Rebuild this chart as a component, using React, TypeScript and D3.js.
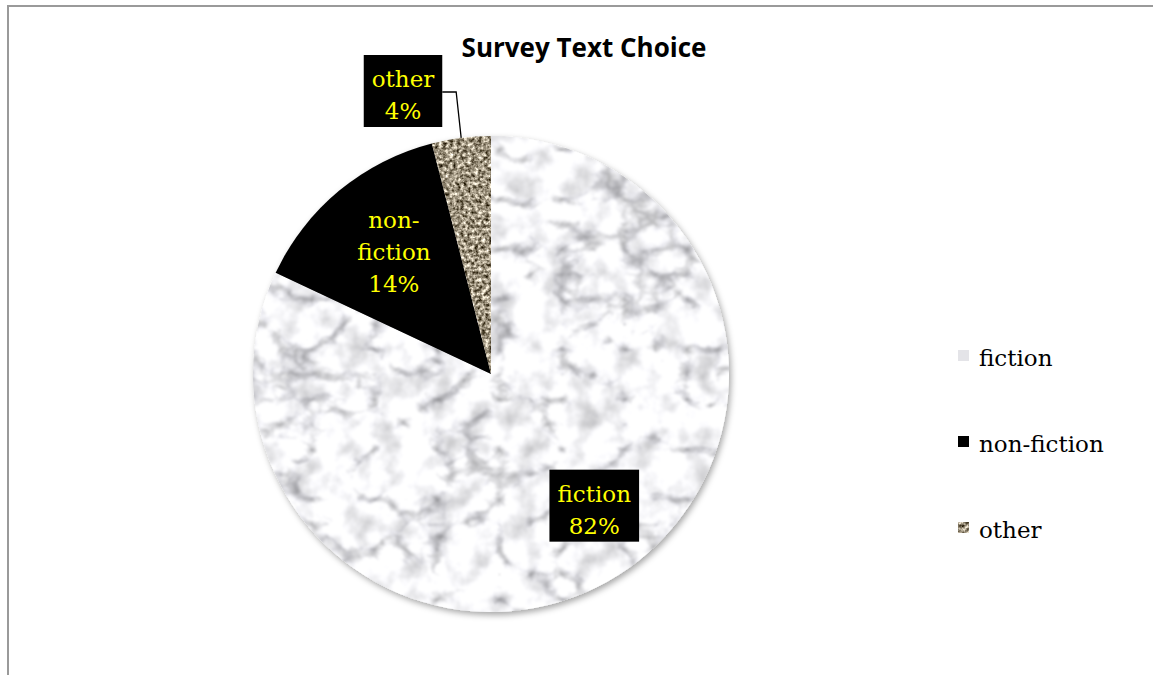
import React, { useEffect, useRef } from "react";
import * as d3 from "d3";

// Survey answers: share of respondents per text type (percent)
const categories = ["fiction", "non-fiction", "other"];
const shares = [82, 14, 4];
const chartTitle = "Survey Text Choice";

const W = 1153;
const H = 675;
const CX = 491;
const CY = 374;
const R = 238;
const SERIF = "'DejaVu Serif', 'Liberation Serif', serif";

type Datum = { name: string; value: number };

export default function App() {
  const ref = useRef<SVGSVGElement | null>(null);

  useEffect(() => {
    const svg = d3.select(ref.current);
    svg.selectAll("*").remove();

    const defs = svg.append("defs");

    // Marble texture: turbulence ridges become grey veins, cloudy noise adds mottling
    const marble = defs.append("filter").attr("id", "marbleTex")
      .attr("filterUnits", "userSpaceOnUse")
      .attr("color-interpolation-filters", "sRGB")
      .attr("x", 0).attr("y", 0).attr("width", W).attr("height", H);
    marble.append("feTurbulence").attr("type", "turbulence")
      .attr("baseFrequency", "0.016 0.02").attr("numOctaves", 5).attr("seed", 11).attr("result", "t");
    marble.append("feColorMatrix").attr("in", "t").attr("type", "matrix")
      .attr("values", "1.3 0 0 0 0.66  1.3 0 0 0 0.66  1.3 0 0 0 0.67  0 0 0 0 1")
      .attr("result", "veins");
    marble.append("feTurbulence").attr("type", "fractalNoise")
      .attr("baseFrequency", "0.035").attr("numOctaves", 4).attr("seed", 4).attr("result", "c");
    marble.append("feColorMatrix").attr("in", "c").attr("type", "matrix")
      .attr("values", "0.55 0 0 0 0.71  0.55 0 0 0 0.71  0.55 0 0 0 0.72  0 0 0 0 1")
      .attr("result", "clouds");
    marble.append("feBlend").attr("in", "veins").attr("in2", "clouds").attr("mode", "multiply").attr("result", "mix");
    marble.append("feGaussianBlur").attr("in", "mix").attr("stdDeviation", 1.2);

    // Speckled sandstone texture
    const sand = defs.append("filter").attr("id", "sandTex")
      .attr("filterUnits", "userSpaceOnUse")
      .attr("color-interpolation-filters", "sRGB")
      .attr("x", 0).attr("y", 0).attr("width", W).attr("height", H);
    sand.append("feTurbulence").attr("type", "fractalNoise")
      .attr("baseFrequency", "0.28").attr("numOctaves", 3).attr("seed", 5).attr("result", "n");
    sand.append("feColorMatrix").attr("in", "n").attr("type", "matrix")
      .attr("values", "1.5 0 0 0 -0.13  1.5 0 0 0 -0.17  1.5 0 0 0 -0.25  0 0 0 0 1")
      .attr("result", "s");
    sand.append("feGaussianBlur").attr("in", "s").attr("stdDeviation", 0.5);

    const shadow = defs.append("filter").attr("id", "pieShadow")
      .attr("x", "-10%").attr("y", "-10%").attr("width", "120%").attr("height", "120%");
    shadow.append("feDropShadow").attr("dx", 2).attr("dy", 3).attr("stdDeviation", 3)
      .attr("flood-color", "#000").attr("flood-opacity", 0.35);

    const textures = d3.scaleOrdinal<string, string>()
      .domain(categories)
      .range(["marbleTex", "", "sandTex"]);

    // Frame of the chart area
    svg.append("rect").attr("x", 8).attr("y", 6).attr("width", W + 20).attr("height", H + 20)
      .attr("fill", "none").attr("stroke", "#9a9a9a").attr("stroke-width", 2);

    svg.append("text").attr("x", 584).attr("y", 57).attr("text-anchor", "middle")
      .attr("font-family", "'Open Sans', Lato, sans-serif").attr("font-weight", 700)
      .attr("font-size", 26).attr("fill", "#000").text(chartTitle);

    const data: Datum[] = categories.map((c, i) => ({ name: c, value: shares[i] }));
    const pie = d3.pie<Datum>().sort(null).value((d) => d.value);
    const arcs = pie(data);
    const arc = d3.arc<d3.PieArcDatum<Datum>>().innerRadius(0).outerRadius(R);

    // Slices: textured ones are a filtered rectangle clipped to the slice shape
    const slices = svg.append("g").attr("filter", "url(#pieShadow)");
    arcs.forEach((a, i) => {
      const tex = textures(a.data.name);
      if (tex) {
        const id = `slice-clip-${i}`;
        defs.append("clipPath").attr("id", id)
          .append("path").attr("d", arc(a) as string)
          .attr("transform", `translate(${CX},${CY})`);
        slices.append("rect")
          .attr("x", CX - R - 2).attr("y", CY - R - 2)
          .attr("width", 2 * R + 4).attr("height", 2 * R + 4)
          .attr("filter", `url(#${tex})`)
          .attr("clip-path", `url(#${id})`);
      } else {
        slices.append("path").attr("d", arc(a) as string)
          .attr("transform", `translate(${CX},${CY})`)
          .attr("fill", "#000");
      }
    });

    // Data labels
    const labelG = svg.append("g");
    const fmt = (v: number) => `${Math.round(v)}%`;

    const drawLabel = (lines: string[], cx: number, b1: number, boxed: boolean) => {
      const lg = labelG.append("g");
      const rect = lg.append("rect").attr("fill", "#000");
      const t = lg.append("text").attr("font-family", SERIF).attr("font-size", 23)
        .attr("fill", "#ffff00").attr("text-anchor", "middle");
      lines.forEach((ln, i) => {
        t.append("tspan").attr("x", cx).attr("y", b1 + i * 32).text(ln);
      });
      const bb = (t.node() as SVGTextElement).getBBox();
      const wBox = bb.width + 16;
      if (boxed) {
        rect.attr("x", cx - wBox / 2).attr("y", b1 - 32)
          .attr("width", wBox).attr("height", (lines.length - 1) * 32 + 40);
      } else {
        rect.remove();
      }
      return { right: cx + wBox / 2 };
    };

    // fiction: inside the slice, lower right
    const midF = (arcs[0].startAngle + arcs[0].endAngle) / 2;
    const fx = CX + Math.sin(midF) * R * 0.7 + 14;
    const fy = CY - Math.cos(midF) * R * 0.7 - 10;
    drawLabel([categories[0], fmt(shares[0])], fx, fy - 3, true);

    // non-fiction: inside the black slice
    const midNF = (arcs[1].startAngle + arcs[1].endAngle) / 2;
    const nfx = CX + Math.sin(midNF) * R * 0.64;
    const nfy = CY - Math.cos(midNF) * R * 0.64;
    drawLabel(["non-", "fiction", fmt(shares[1])], nfx, nfy - 29, false);

    // other: outside, with a leader line back to the slice edge
    const midO = (arcs[2].startAngle + arcs[2].endAngle) / 2;
    const ex = CX + Math.sin(midO) * R;
    const ey = CY - Math.cos(midO) * R;
    const o = drawLabel([categories[2], fmt(shares[2])], 403, 87, true);
    labelG.append("path")
      .attr("d", `M${o.right},92 L${ex - 5},92 L${ex},${ey}`)
      .attr("fill", "none").attr("stroke", "#000").attr("stroke-width", 1.3);

    // Legend
    const leg = svg.append("g");
    categories.forEach((c, i) => {
      const y = 358 + i * 86;
      const tex = textures(c);
      const key = leg.append("rect").attr("x", 958).attr("y", y - 8).attr("width", 11).attr("height", 11);
      if (c === categories[0]) {
        key.attr("fill", "#e4e4e8");
      } else if (tex) {
        const id = `legend-clip-${i}`;
        defs.append("clipPath").attr("id", id)
          .append("rect").attr("x", 958).attr("y", y - 8).attr("width", 11).attr("height", 11);
        key.attr("filter", `url(#${tex})`).attr("clip-path", `url(#${id})`);
      } else {
        key.attr("fill", "#000");
      }
      leg.append("text").attr("x", 979).attr("y", y + 8).attr("font-family", SERIF)
        .attr("font-size", 23).attr("fill", "#000").text(c);
    });
  }, []);

  return (
    <svg
      ref={ref}
      width={W}
      height={H}
      style={{ position: "absolute", left: 0, top: 0, background: "#fff" }}
    />
  );
}
